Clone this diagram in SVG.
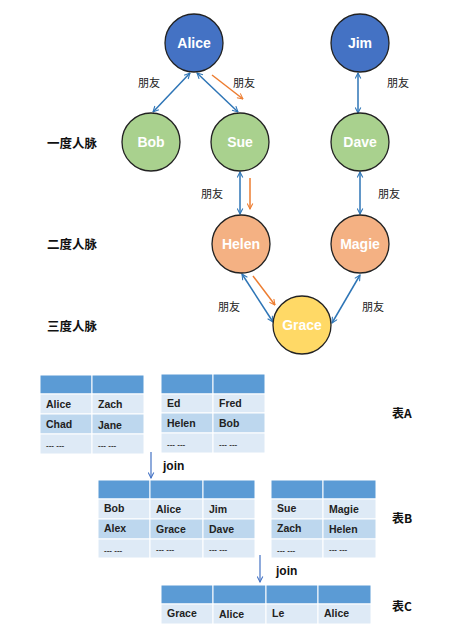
<svg xmlns="http://www.w3.org/2000/svg" width="450" height="629" viewBox="0 0 450 629">
<style>
.nd{stroke:#222;stroke-width:1.3}
.nt{font-family:"Liberation Sans","Noto Sans CJK SC",sans-serif;font-weight:bold;font-size:14px;fill:#fff;text-anchor:middle}
.lbl{font-family:"Noto Sans CJK SC","Liberation Sans",sans-serif;font-size:11px;fill:#222}
.lv{font-family:"Noto Sans CJK SC",sans-serif;font-weight:bold;font-size:12.5px;fill:#111}
.ed{stroke:#2E75B6;stroke-width:1.5;fill:none;marker-start:url(#ab);marker-end:url(#ab)}
.or{stroke:#ED7D31;stroke-width:1.5;fill:none;marker-end:url(#ao)}
.hd{fill:#5B9BD5;stroke:#fff;stroke-width:1}
.r1{fill:#DEEAF6;stroke:#fff;stroke-width:1}
.r2{fill:#BDD7EE;stroke:#fff;stroke-width:1}
.ct{font-family:"Liberation Sans",sans-serif;font-weight:bold;font-size:10.5px;fill:#222}
.dt{font-family:"Liberation Sans",sans-serif;font-weight:bold;font-size:8px;fill:#333}
.tl{font-family:"Noto Sans CJK SC","Liberation Sans",sans-serif;font-weight:bold;font-size:12px;fill:#111}
.jn{font-family:"Liberation Sans",sans-serif;font-weight:bold;font-size:12px;fill:#111}
.ja{stroke:#4472C4;stroke-width:1.2;fill:none;marker-end:url(#aj)}
</style>
<defs>
<marker id="ab" viewBox="0 0 10 10" refX="9" refY="5" markerWidth="7" markerHeight="7" orient="auto-start-reverse" markerUnits="userSpaceOnUse"><path d="M1,1 L9,5 L1,9" fill="none" stroke="#2E75B6" stroke-width="1.5"/></marker>
<marker id="ao" viewBox="0 0 10 10" refX="9" refY="5" markerWidth="7" markerHeight="7" orient="auto" markerUnits="userSpaceOnUse"><path d="M1,1 L9,5 L1,9" fill="none" stroke="#ED7D31" stroke-width="1.5"/></marker>
<marker id="aj" viewBox="0 0 10 10" refX="9" refY="5" markerWidth="7" markerHeight="7" orient="auto" markerUnits="userSpaceOnUse"><path d="M1,1 L9,5 L1,9" fill="none" stroke="#4472C4" stroke-width="1.5"/></marker>
</defs>
<rect width="450" height="629" fill="#fff"/>

<g id="connectors">
<line class="ed" x1="190" y1="73" x2="153" y2="112"/>
<line class="ed" x1="197" y1="73" x2="238" y2="112"/>
<line class="or" x1="212" y1="75" x2="243" y2="99"/>
<line class="ed" x1="358" y1="73" x2="358" y2="113"/>
<line class="ed" x1="240" y1="172" x2="240" y2="214"/>
<line class="or" x1="250" y1="178" x2="250" y2="209"/>
<line class="ed" x1="360" y1="172" x2="360" y2="214"/>
<line class="ed" x1="242" y1="274" x2="273" y2="322"/>
<line class="or" x1="253" y1="276" x2="275" y2="305"/>
<line class="ed" x1="360" y1="275" x2="332" y2="323"/>
<line class="ja" x1="151" y1="452" x2="151" y2="478"/>
<line class="ja" x1="260" y1="555" x2="260" y2="582"/>
</g>
<g id="edge-labels">
<text class="lbl" x="138" y="87">朋友</text>
<text class="lbl" x="233" y="87">朋友</text>
<text class="lbl" x="387" y="87">朋友</text>
<text class="lbl" x="201" y="198">朋友</text>
<text class="lbl" x="378" y="198">朋友</text>
<text class="lbl" x="218" y="311">朋友</text>
<text class="lbl" x="362" y="311">朋友</text>
</g>
<g id="levels">
<text class="lv" x="47" y="148">一度人脉</text>
<text class="lv" x="47" y="249">二度人脉</text>
<text class="lv" x="47" y="331">三度人脉</text>
</g>

<g id="Alice"><circle class="nd" cx="194" cy="43" r="29" fill="#4472C4"/><text class="nt" x="194" y="48">Alice</text></g>
<g id="Jim"><circle class="nd" cx="360" cy="43" r="29" fill="#4472C4"/><text class="nt" x="360" y="48">Jim</text></g>
<g id="Bob"><circle class="nd" cx="151" cy="142" r="29" fill="#A9D18E"/><text class="nt" x="151" y="147">Bob</text></g>
<g id="Sue"><circle class="nd" cx="240" cy="142" r="29" fill="#A9D18E"/><text class="nt" x="240" y="147">Sue</text></g>
<g id="Dave"><circle class="nd" cx="360" cy="142" r="29" fill="#A9D18E"/><text class="nt" x="360" y="147">Dave</text></g>
<g id="Helen"><circle class="nd" cx="241" cy="244" r="29" fill="#F4B183"/><text class="nt" x="241" y="249">Helen</text></g>
<g id="Magie"><circle class="nd" cx="360" cy="244" r="29" fill="#F4B183"/><text class="nt" x="360" y="249">Magie</text></g>
<g id="Grace"><circle class="nd" cx="302" cy="325" r="29" fill="#FFD966"/><text class="nt" x="302" y="330">Grace</text></g>

<g id="tableA1">
<rect class="hd" x="40" y="375" width="52" height="19"/><rect class="hd" x="92" y="375" width="52" height="19"/>
<rect class="r1" x="40" y="394" width="52" height="20"/><rect class="r1" x="92" y="394" width="52" height="20"/>
<rect class="r2" x="40" y="414" width="52" height="20"/><rect class="r2" x="92" y="414" width="52" height="20"/>
<rect class="r1" x="40" y="434" width="52" height="20"/><rect class="r1" x="92" y="434" width="52" height="20"/>
<text class="ct" x="46" y="408">Alice</text><text class="ct" x="98" y="408">Zach</text>
<text class="ct" x="46" y="428">Chad</text><text class="ct" x="98" y="429">Jane</text>
<text class="dt" x="46" y="448">--- ---</text><text class="dt" x="98" y="448">--- ---</text>
</g>
<g id="tableA2">
<rect class="hd" x="161" y="374" width="52" height="20"/><rect class="hd" x="213" y="374" width="52" height="20"/>
<rect class="r1" x="161" y="394" width="52" height="19"/><rect class="r1" x="213" y="394" width="52" height="19"/>
<rect class="r2" x="161" y="413" width="52" height="20"/><rect class="r2" x="213" y="413" width="52" height="20"/>
<rect class="r1" x="161" y="433" width="52" height="20"/><rect class="r1" x="213" y="433" width="52" height="20"/>
<text class="ct" x="167" y="407">Ed</text><text class="ct" x="219" y="407">Fred</text>
<text class="ct" x="167" y="427">Helen</text><text class="ct" x="219" y="427">Bob</text>
<text class="dt" x="167" y="447">--- ---</text><text class="dt" x="219" y="447">--- ---</text>
</g>
<text class="tl" x="392" y="418">表A</text>
<text class="jn" x="163" y="470">join</text>

<g id="tableB1">
<rect class="hd" x="98" y="480" width="52" height="19"/><rect class="hd" x="150" y="480" width="53" height="19"/><rect class="hd" x="203" y="480" width="52" height="19"/>
<rect class="r1" x="98" y="499" width="52" height="20"/><rect class="r1" x="150" y="499" width="53" height="20"/><rect class="r1" x="203" y="499" width="52" height="20"/>
<rect class="r2" x="98" y="519" width="52" height="20"/><rect class="r2" x="150" y="519" width="53" height="20"/><rect class="r2" x="203" y="519" width="52" height="20"/>
<rect class="r1" x="98" y="539" width="52" height="19"/><rect class="r1" x="150" y="539" width="53" height="19"/><rect class="r1" x="203" y="539" width="52" height="19"/>
<text class="ct" x="104" y="512">Bob</text><text class="ct" x="156" y="513">Alice</text><text class="ct" x="209" y="513">Jim</text>
<text class="ct" x="104" y="532">Alex</text><text class="ct" x="156" y="533">Grace</text><text class="ct" x="209" y="533">Dave</text>
<text class="dt" x="104" y="553">--- ---</text><text class="dt" x="156" y="552">--- ---</text><text class="dt" x="209" y="552">--- ---</text>
</g>
<g id="tableB2">
<rect class="hd" x="271" y="480" width="52" height="19"/><rect class="hd" x="323" y="480" width="53" height="19"/>
<rect class="r1" x="271" y="499" width="52" height="20"/><rect class="r1" x="323" y="499" width="53" height="20"/>
<rect class="r2" x="271" y="519" width="52" height="20"/><rect class="r2" x="323" y="519" width="53" height="20"/>
<rect class="r1" x="271" y="539" width="52" height="19"/><rect class="r1" x="323" y="539" width="53" height="19"/>
<text class="ct" x="277" y="512">Sue</text><text class="ct" x="329" y="513">Magie</text>
<text class="ct" x="277" y="532">Zach</text><text class="ct" x="329" y="533">Helen</text>
<text class="dt" x="277" y="553">--- ---</text><text class="dt" x="329" y="552">--- ---</text>
</g>
<text class="tl" x="392" y="523">表B</text>
<text class="jn" x="276" y="575">join</text>

<g id="tableC">
<rect class="hd" x="161" y="585" width="52" height="19"/><rect class="hd" x="213" y="585" width="53" height="19"/><rect class="hd" x="266" y="585" width="52" height="19"/><rect class="hd" x="318" y="585" width="53" height="19"/>
<rect class="r1" x="161" y="604" width="52" height="20"/><rect class="r1" x="213" y="604" width="53" height="20"/><rect class="r1" x="266" y="604" width="52" height="20"/><rect class="r1" x="318" y="604" width="53" height="20"/>
<text class="ct" x="167" y="617">Grace</text><text class="ct" x="219" y="618">Alice</text><text class="ct" x="272" y="617">Le</text><text class="ct" x="324" y="617">Alice</text>
</g>
<text class="tl" x="392" y="611">表C</text>
</svg>
